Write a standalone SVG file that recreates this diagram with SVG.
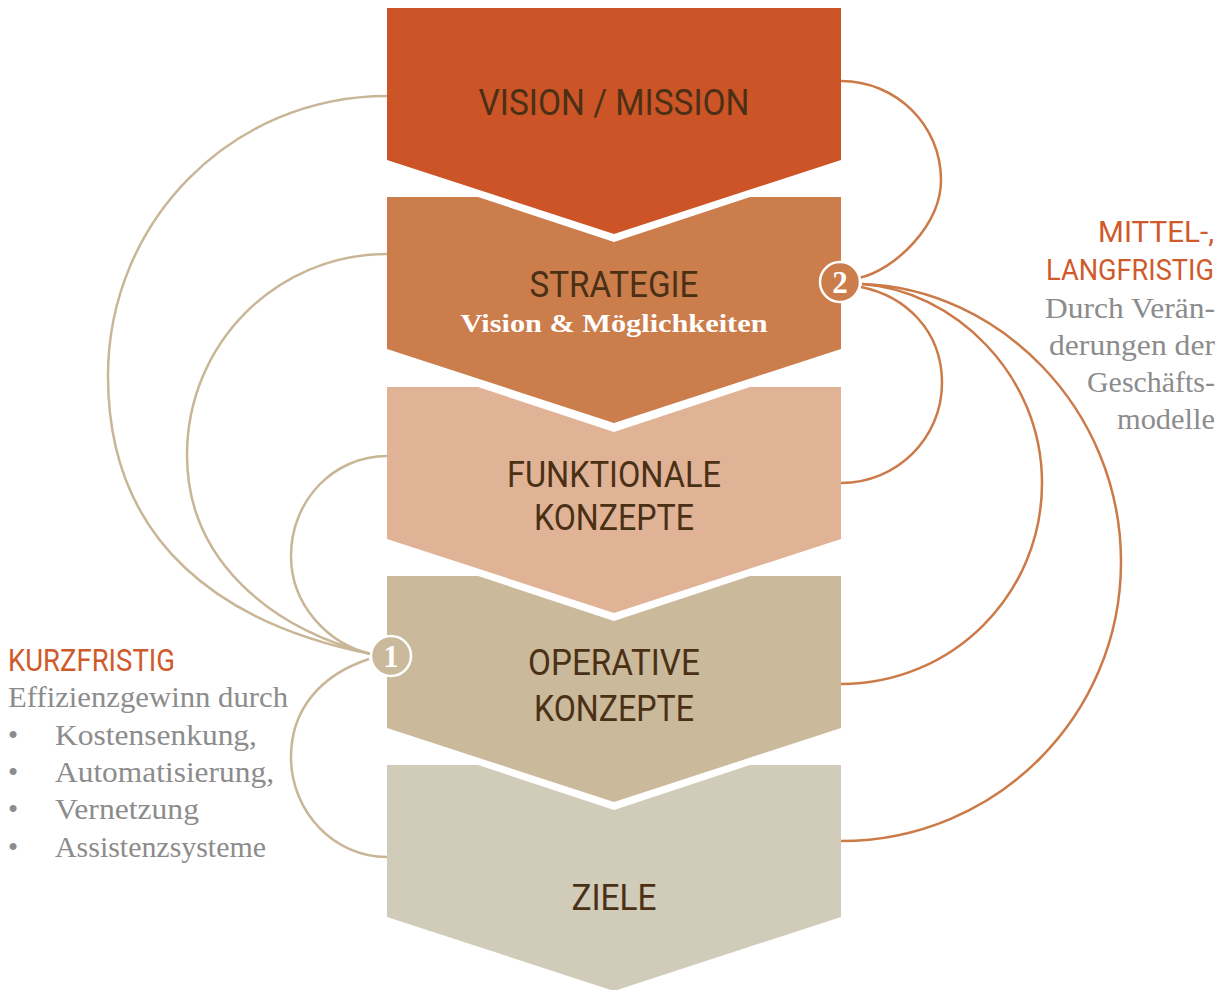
<svg xmlns="http://www.w3.org/2000/svg" width="1228" height="990" viewBox="0 0 1228 990">
  <style>
    .step { font-family: Roboto, "Liberation Sans", sans-serif; font-weight: 400; font-size: 37px; fill: #4a3015; text-anchor: middle; }
    .sub { font-family: "Liberation Serif", serif; font-weight: bold; font-size: 26px; fill: #ffffff; text-anchor: middle; }
    .head { font-family: Roboto, "Liberation Sans", sans-serif; font-weight: 400; font-size: 31px; fill: #cf5a2b; }
    .head.right { font-size: 29px; }
    .note { font-family: "Liberation Serif", serif; font-size: 29px; fill: #8c8c8c; }
    .badge-num { font-family: "Liberation Serif", serif; font-weight: bold; font-size: 31px; fill: #ffffff; text-anchor: middle; }
    .short { fill: none; stroke: #c9b697; stroke-width: 2.5; }
    .long { fill: none; stroke: #cb7a48; stroke-width: 2.5; }
    .badge { stroke: #ffffff; stroke-width: 2.5; }
  </style>

  <!-- Chevron steps, top to bottom -->
  <g id="vision-mission">
    <path d="M387,8 H841 V160 L614,234 L387,160 Z" fill="#cc5427"/>
    <text class="step" x="614" y="115" textLength="271" lengthAdjust="spacingAndGlyphs">VISION / MISSION</text>
  </g>
  <g id="strategie">
    <path d="M387,197 H478 L614,242 L750,197 H841 V349 L614,423 L387,349 Z" fill="#cb7d4c"/>
    <text class="step" x="614" y="297" textLength="169" lengthAdjust="spacingAndGlyphs">STRATEGIE</text>
    <text class="sub" x="614" y="332" textLength="307" lengthAdjust="spacingAndGlyphs">Vision &amp; Möglichkeiten</text>
  </g>
  <g id="funktionale-konzepte">
    <path d="M387,387 H478 L614,432 L750,387 H841 V539 L614,613 L387,539 Z" fill="#e1b396"/>
    <text class="step" x="614" y="487" textLength="214" lengthAdjust="spacingAndGlyphs">FUNKTIONALE</text>
    <text class="step" x="614" y="530" textLength="160" lengthAdjust="spacingAndGlyphs">KONZEPTE</text>
  </g>
  <g id="operative-konzepte">
    <path d="M387,576 H478 L614,621 L750,576 H841 V728 L614,802 L387,728 Z" fill="#cab99a"/>
    <text class="step" x="614" y="675" textLength="172" lengthAdjust="spacingAndGlyphs">OPERATIVE</text>
    <text class="step" x="614" y="721" textLength="160" lengthAdjust="spacingAndGlyphs">KONZEPTE</text>
  </g>
  <g id="ziele">
    <path d="M387,765 H478 L614,810 L750,765 H841 V917 L614,991 L387,917 Z" fill="#d1cbb9"/>
    <text class="step" x="614" y="910" textLength="85" lengthAdjust="spacingAndGlyphs">ZIELE</text>
  </g>

  <!-- Feedback loops -->
  <g id="connectors">
    <!-- short-term loops into badge 1 -->
    <path class="short" d="M387,96 C232,96 108,221 108,376 C108,545 225,625 371,654"/>
    <path class="short" d="M387,254 C276,254 187,344 187,455 C187,560 270,628 371,654"/>
    <path class="short" d="M387,456 C334,456 291,500 291,556 C291,605 328,644 371,654"/>
    <path class="short" d="M369,659 C320,675 291,710 291,757 C291,812 334,857 387,857"/>
    <!-- medium / long-term loops into badge 2 -->
    <path class="long" d="M841,81 C896,81 941,125 941,180 C941,225 895,270 859,278"/>
    <path class="long" d="M861,287 C905,296 942,330 942,383 C942,438 897,483 841,483"/>
    <path class="long" d="M862,284 C952,290 1042,373 1042,483 C1042,594 953,684 841,684"/>
    <path class="long" d="M862,284 C998,288 1121,408 1121,562 C1121,716 996,841 841,841"/>
  </g>

  <g id="badge-1">
    <circle class="badge" cx="391" cy="656" r="20" fill="#cab99a"/>
    <text class="badge-num" x="391" y="667">1</text>
  </g>
  <g id="badge-2">
    <circle class="badge" cx="840" cy="282" r="20" fill="#cb7d4c"/>
    <text class="badge-num" x="840" y="293">2</text>
  </g>

  <g id="label-kurzfristig">
    <text class="head" x="8" y="671" textLength="167" lengthAdjust="spacingAndGlyphs">KURZFRISTIG</text>
    <text class="note" x="8" y="707" textLength="280" lengthAdjust="spacingAndGlyphs">Effizienzgewinn durch</text>
    <text class="note" x="8" y="745">•</text>
    <text class="note" x="55" y="745" textLength="202" lengthAdjust="spacingAndGlyphs">Kostensenkung,</text>
    <text class="note" x="8" y="782">•</text>
    <text class="note" x="55" y="782" textLength="219" lengthAdjust="spacingAndGlyphs">Automatisierung,</text>
    <text class="note" x="8" y="819">•</text>
    <text class="note" x="55" y="819" textLength="144" lengthAdjust="spacingAndGlyphs">Vernetzung</text>
    <text class="note" x="8" y="857">•</text>
    <text class="note" x="55" y="857" textLength="211" lengthAdjust="spacingAndGlyphs">Assistenzsysteme</text>
  </g>

  <g id="label-mittel-langfristig">
    <text class="head right" x="1098" y="242" textLength="116" lengthAdjust="spacingAndGlyphs">MITTEL-,</text>
    <text class="head right" x="1046" y="280" textLength="168" lengthAdjust="spacingAndGlyphs">LANGFRISTIG</text>
    <text class="note" x="1045" y="318" textLength="170" lengthAdjust="spacingAndGlyphs">Durch Verän-</text>
    <text class="note" x="1049" y="355" textLength="166" lengthAdjust="spacingAndGlyphs">derungen der</text>
    <text class="note" x="1087" y="392" textLength="128" lengthAdjust="spacingAndGlyphs">Geschäfts-</text>
    <text class="note" x="1117" y="429" textLength="98" lengthAdjust="spacingAndGlyphs">modelle</text>
  </g>
</svg>
